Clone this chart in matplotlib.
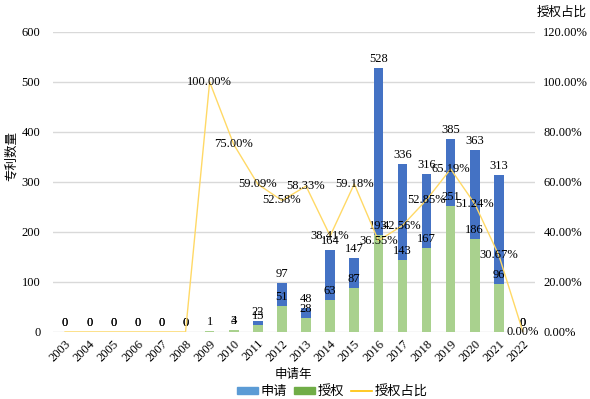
import numpy as np
import matplotlib.pyplot as plt
from matplotlib.patches import Patch
from matplotlib.lines import Line2D

plt.rcParams['font.family'] = ['Liberation Serif', 'Noto Sans CJK SC', 'DejaVu Sans']

years = [str(y) for y in range(2003, 2023)]
applied = [0, 0, 0, 0, 0, 0, 1, 4, 22, 97, 48, 164, 147, 528, 336, 316, 385, 363, 313, 0]
granted = [0, 0, 0, 0, 0, 0, 1, 3, 13, 51, 28, 63, 87, 193, 143, 167, 251, 186, 96, 0]
ratio = [0, 0, 0, 0, 0, 0, 100.00, 75.00, 59.09, 52.58, 58.33, 38.41, 59.18,
         36.55, 42.56, 52.85, 65.19, 51.24, 30.67, 0.00]
ratio_shown = [False] * 6 + [True] * 14

fig = plt.figure(figsize=(5.9, 3.99), dpi=100)
ax = fig.add_axes([0.0898, 0.168, 0.817, 0.752])
ax2 = ax.twinx()

x = np.arange(len(years))
w = 0.4
ax.bar(x, applied, w, color='#4472C4', zorder=2)
ax.bar(x, granted, w, color='#A9D18E', zorder=3)

for i in x:
    ax.text(i, applied[i] + 6, str(applied[i]), ha='center', va='bottom', fontsize=9, zorder=5)
    if i != 6:
        ax.text(i, granted[i] + 6, str(granted[i]), ha='center', va='bottom', fontsize=9, zorder=5)

ax2.plot(x, ratio, color='#FFD966', lw=1, zorder=4)
for i in x:
    if ratio_shown[i]:
        ax2.text(i, ratio[i], '%.2f%%' % ratio[i], ha='center', va='center', fontsize=9, zorder=6)

ax.set_xlim(-0.5, len(years) - 0.5)
ax.set_ylim(0, 600)
ax.set_yticks(range(0, 601, 100))
ax2.set_ylim(0, 120)
ax2.set_yticks(range(0, 121, 20))
ax2.set_yticklabels(['%.2f%%' % v for v in range(0, 121, 20)])

ax.set_xticks(x)
ax.set_xticklabels(years, rotation=45, ha='right', va='top', rotation_mode='anchor')
ax.grid(axis='y', color='#D9D9D9', lw=1, zorder=0)
ax.set_axisbelow(True)
for a in (ax, ax2):
    for s in a.spines.values():
        s.set_visible(False)
    a.tick_params(length=0, labelsize=9)
ax.tick_params(axis='y', pad=9)
ax.tick_params(axis='x', pad=4)
ax2.tick_params(axis='y', pad=6)

fig.text(12 / 590, 1 - 156 / 399, '专利数量', rotation=90, ha='center', va='center', fontsize=9)
fig.text(0.952, 0.968, '授权占比', ha='center', va='center', fontsize=9)
fig.text(0.497, 0.06, '申请年', ha='center', va='center', fontsize=9)

handles = [Patch(color='#5B9BD5', label='申请'),
           Patch(color='#70AD47', label='授权'),
           Line2D([0], [0], color='#FFC000', lw=1.2, label='授权占比')]
fig.legend(handles=handles, loc='center', bbox_to_anchor=(0.563, 0.018), ncol=3, frameon=False,
           fontsize=9.5, handlelength=1.6, handleheight=0.4, handletextpad=0.2, columnspacing=0.5,
           borderpad=0, borderaxespad=0)

fig.savefig('out.png', dpi=100)
